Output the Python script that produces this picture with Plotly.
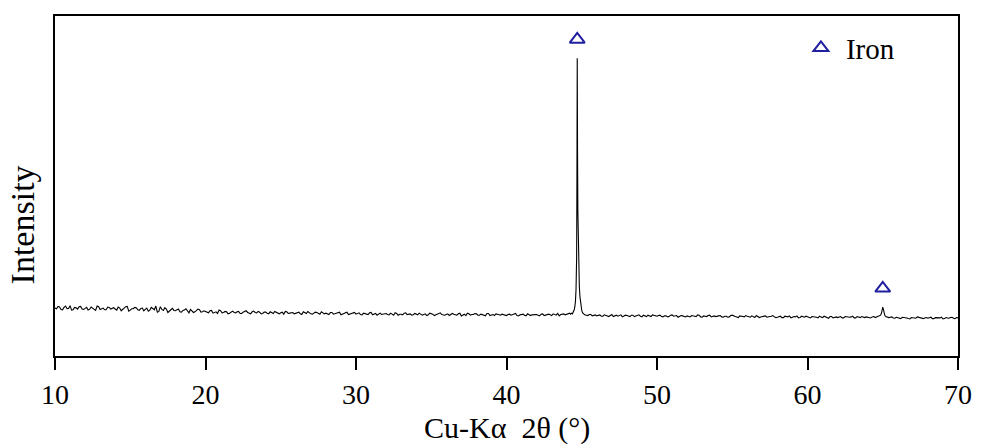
import numpy as np
import plotly.graph_objects as go

# ---- data ----
# scan sampled every 0.2 deg starting at 10.0 (even) and at 10.1 (odd positions)
scan_start, scan_stop, scan_step = 10.0, 70.0, 0.2
baseline_intensity = [
    141,146,137,143,139,148,136,142,145,138,
    140,135,144,139,147,137,141,136,143,140,
    138,144,133,140,146,135,139,142,134,141,
    137,132,143,136,129,145,134,138,131,140,
    133,138,129,135,131,137,128,134,136,130,
    131,127,134,129,125,133,128,130,126,132,
    127,131,125,130,128,124,132,127,129,125,
    129,124,128,131,125,127,123,130,126,128,
    125,129,122,127,131,124,126,128,123,127,
    126,122,128,124,127,121,125,129,123,126,
    123,127,121,125,122,128,124,120,126,123,
    125,121,124,127,120,123,126,122,124,121,
    123,126,120,124,121,125,119,123,127,121,
    122,119,125,121,124,118,123,126,120,122,
    124,120,122,118,125,121,119,123,120,122,
    119,123,121,125,118,122,120,124,119,121,
    122,118,124,120,123,119,121,125,122,124,
    123,126,128,600,200,125,121,119,122,120,
    118,121,117,120,116,122,119,117,121,118,
    119,116,120,117,121,115,118,120,116,119,
    117,120,115,118,116,121,117,114,119,116,
    118,115,119,116,120,114,117,119,115,118,
    116,119,114,117,115,120,116,113,118,115,
    117,114,116,119,113,116,118,114,117,115,
    114,117,113,116,118,114,115,112,117,114,
    115,112,116,114,117,113,115,111,116,113,
    113,116,112,115,114,117,112,114,116,113,
    114,112,116,115,118,144,120,113,115,111,
    113,110,114,112,109,113,111,114,110,112,
    111,114,110,113,112,109,113,111,114,110,
    112,
]
mid_start = 10.1
baseline_intensity_mid = [
    139,144,136,147,140,135,143,138,146,137,
    143,137,141,134,145,139,136,144,138,142,
    135,141,137,145,132,139,143,136,140,133,
    141,135,139,147,131,137,142,128,136,134,
    136,130,134,139,127,133,130,138,129,133,
    128,133,126,130,135,127,131,124,129,128,
    130,125,129,133,126,130,128,131,124,129,
    126,130,125,128,124,129,131,125,128,124,
    128,124,130,125,127,123,129,125,130,124,
    124,128,123,126,129,124,127,122,125,128,
    125,122,126,124,127,121,125,123,122,125,
    122,126,120,125,123,121,127,124,120,125,
    121,124,122,119,126,123,121,125,122,120,
    124,121,123,120,126,121,119,124,122,125,
    120,123,121,125,119,122,124,121,123,119,
    122,120,124,119,121,123,118,122,121,123,
    120,123,119,122,121,124,120,118,123,121,
    124,127,135,870,150,126,120,122,118,121,
    120,117,121,118,119,116,120,118,115,120,
    117,120,116,119,117,120,116,118,121,117,
    119,116,118,115,120,117,119,116,118,115,
    116,119,117,121,115,118,116,120,117,116,
    118,115,117,114,119,117,115,118,116,119,
    115,118,113,117,115,119,114,116,119,113,
    116,113,117,115,112,116,118,113,115,117,
    113,116,114,112,115,117,113,116,112,115,
    115,112,116,113,115,112,116,113,114,115,
    113,115,113,115,125,130,117,114,112,114,
    111,114,112,110,113,111,115,112,110,113,
    112,110,113,111,114,110,112,113,111,113,
]

peak1_2theta = [44.26,44.32,44.38,44.44,44.50,44.54,44.58,44.62,44.64,44.66,44.68,44.70,
                44.72,44.74,44.76,44.78,44.80,44.84,44.88,44.92,44.96,45.00,45.06,45.12]
peak1_intensity = [123,126,124,129,136,145,160,195,225,290,520,876,
                   600,430,340,285,250,205,175,155,142,134,127,124]

peak2_2theta = [64.72,64.80,64.86,64.92,64.96,65.00,65.04,65.08,65.14,65.20,65.28,65.34]
peak2_intensity = [115,117,120,127,136,144,138,126,119,116,114,113]

iron_peaks_2theta = [44.70, 65.00]
iron_peaks_intensity = [876, 144]
marker_offset = 55

x_ticks = [10, 20, 30, 40, 50, 60, 70]

# ---- assemble scan ----
grid = np.round(scan_start + scan_step * np.arange(len(baseline_intensity)), 2)
grid_mid = np.round(mid_start + scan_step * np.arange(len(baseline_intensity_mid)), 2)
gx = np.concatenate([grid, grid_mid])
gy = np.concatenate([np.array(baseline_intensity, float),
                     np.array(baseline_intensity_mid, float)])
keep = ~(((gx > 44.25) & (gx < 45.15)) | ((gx > 64.7) & (gx < 65.35)))
xs = np.concatenate([gx[keep], peak1_2theta, peak2_2theta])
ys = np.concatenate([gy[keep], peak1_intensity, peak2_intensity])
order = np.argsort(xs, kind="stable")
xs, ys = xs[order], ys[order]

FONT = "Liberation Serif"
BLUE = "#1f1fa0"

fig = go.Figure()
fig.add_trace(go.Scatter(x=xs, y=ys, mode="lines",
                         line=dict(color="black", width=1.1), showlegend=False,
                         hoverinfo="skip"))
fig.add_trace(go.Scatter(x=iron_peaks_2theta,
                         y=[v + marker_offset for v in iron_peaks_intensity],
                         mode="markers", name="Iron",
                         marker=dict(symbol="triangle-up-open", size=13,
                                     color=BLUE, line=dict(width=2, color=BLUE))))

fig.update_layout(
    width=984, height=444,
    margin=dict(l=55, r=18, t=16, b=88),
    paper_bgcolor="white", plot_bgcolor="white",
    font=dict(family=FONT, size=28, color="black"),
    legend=dict(x=0.8205, y=0.906, xanchor="left", yanchor="middle",
                bgcolor="rgba(0,0,0,0)", font=dict(size=29, family=FONT),
                itemwidth=40),
    annotations=[
        dict(text="Cu-Kα  2θ (°)", xref="paper", yref="paper", x=0.5, y=-0.2118,
             xanchor="center", yanchor="middle", showarrow=False,
             font=dict(size=30, family=FONT, color="black")),
        dict(text="Intensity", xref="paper", yref="paper", x=-0.0362, y=0.385,
             xanchor="center", yanchor="middle", showarrow=False, textangle=-90,
             font=dict(size=34, family=FONT, color="black")),
    ],
)
fig.update_xaxes(range=[10, 70], tickvals=x_ticks, ticks="outside", ticklen=12,
                 tickwidth=2, tickcolor="black", showline=True, linewidth=2,
                 linecolor="black", mirror=True, showgrid=False, zeroline=False,
                 tickfont=dict(size=28, family=FONT, color="black"))
fig.update_yaxes(range=[0, 1000], showticklabels=False, ticks="", showline=True,
                 linewidth=2, linecolor="black", mirror=True, showgrid=False,
                 zeroline=False)

fig.write_html("out.html")
